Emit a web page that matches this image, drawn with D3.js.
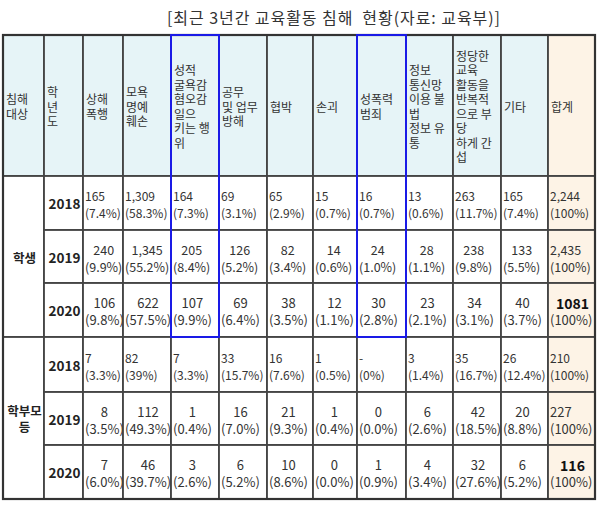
<!DOCTYPE html>
<html>
<head>
<meta charset="utf-8">
<script src="https://cdn.jsdelivr.net/npm/d3@7"></script>
<style>
  body { margin: 0; background: #fff; }
  svg { display: block; font-family: "Noto Sans CJK KR", "Noto Sans", sans-serif; }
</style>
</head>
<body>
<div id="chart"></div>
<script>
// title + column headers
var title = '[최근 3년간 교육활동 침해  현황(자료: 교육부)]';
var headers = [
  ['침해', '대상'], ['학', '년', '도'], ['상해', '폭행'], ['모욕', '명예', '훼손'],
  ['성적', '굴욕감', '혐오감', '일으', '키는 행', '위'], ['공무', '및 업무', '방해'],
  ['협박'], ['손괴'], ['성폭력', '범죄'], ['정보', '통신망', '이용 불', '법', '정보 유', '통'],
  ['정당한', '교육', '활동을', '반복적', '으로 부', '당', '하게 간', '섭'], ['기타'], ['합계']
];
var groups = [['학생'], ['학부모', '등']];
var years = [2018, 2019, 2020];

// counts per category (상해폭행 .. 기타), null = '-'
var student2018 = [165, 1309, 164, 69, 65, 15, 16, 13, 263, 165];
var student2019 = [240, 1345, 205, 126, 82, 14, 24, 28, 238, 133];
var student2020 = [106, 622, 107, 69, 38, 12, 30, 23, 34, 40];
var parent2018 = [7, 82, 7, 33, 16, 1, null, 3, 35, 26];
var parent2019 = [8, 112, 1, 16, 21, 1, 0, 6, 42, 20];
var parent2020 = [7, 46, 3, 6, 10, 0, 1, 4, 32, 6];
var totals = [2244, 2435, 1081, 210, 227, 116];

var studentPct2018 = ['7.4%', '58.3%', '7.3%', '3.1%', '2.9%', '0.7%', '0.7%', '0.6%', '11.7%', '7.4%'];
var studentPct2019 = ['9.9%', '55.2%', '8.4%', '5.2%', '3.4%', '0.6%', '1.0%', '1.1%', '9.8%', '5.5%'];
var studentPct2020 = ['9.8%', '57.5%', '9.9%', '6.4%', '3.5%', '1.1%', '2.8%', '2.1%', '3.1%', '3.7%'];
var parentPct2018 = ['3.3%', '39%', '3.3%', '15.7%', '7.6%', '0.5%', '0%', '1.4%', '16.7%', '12.4%'];
var parentPct2019 = ['3.5%', '49.3%', '0.4%', '7.0%', '9.3%', '0.4%', '0.0%', '2.6%', '18.5%', '8.8%'];
var parentPct2020 = ['6.0%', '39.7%', '2.6%', '5.2%', '8.6%', '0.0%', '0.9%', '3.4%', '27.6%', '5.2%'];

var counts = [student2018, student2019, student2020, parent2018, parent2019, parent2020];
var pcts = [studentPct2018, studentPct2019, studentPct2020, parentPct2018, parentPct2019, parentPct2020];

// layout
var width = 600, height = 506;
var colWidths = [41, 39, 40, 48, 48, 48, 46, 44, 49, 47, 48, 47, 47];
var rowHeights = [141, 54, 53, 54, 55, 53, 54];
var tableLeft = 3, tableTop = 35;
var colEdges = [tableLeft].concat(Array.from(d3.cumsum(colWidths), function(v) { return tableLeft + v; }));
var rowEdges = [tableTop].concat(Array.from(d3.cumsum(rowHeights), function(v) { return tableTop + v; }));
var x = d3.scaleOrdinal().domain(d3.range(colEdges.length)).range(colEdges);
var y = d3.scaleOrdinal().domain(d3.range(rowEdges.length)).range(rowEdges);

// per data row: alignment + font size
var rowAlign = ['left', 'center', 'center', 'left', 'center', 'center'];
var rowFont = [12, 12.5, 13, 12, 13, 13];
var boldTotal = [false, false, true, false, false, true];

var headBg = '#e6f4f7', totalBg = '#fdf3e6', lineCol = '#444', textCol = '#333';
var fmt = d3.format(',');

var svg = d3.select('#chart').append('svg')
  .attr('width', width)
  .attr('height', height);

svg.append('rect').attr('width', width).attr('height', height).attr('fill', '#fff');

svg.append('text')
  .attr('x', 167)
  .attr('y', 17)
  .attr('dominant-baseline', 'central')
  .attr('font-size', 16)
  .attr('fill', textCol)
  .attr('textLength', 333)
  .attr('lengthAdjust', 'spacing')
  .style('white-space', 'pre')
  .text(title);

var table = svg.append('g');

// header cells
headers.forEach(function(lines, i) {
  table.append('rect')
    .attr('x', x(i)).attr('y', y(0))
    .attr('width', x(i + 1) - x(i)).attr('height', y(1) - y(0))
    .attr('fill', i === headers.length - 1 ? totalBg : headBg)
    .attr('stroke', lineCol).attr('stroke-width', 1.8);
  var lh = 14.5;
  var cy = (y(0) + y(1)) / 2 - (lines.length - 1) * lh / 2;
  var t = table.append('text')
    .attr('font-size', 12)
    .attr('fill', textCol)
    .attr('dominant-baseline', 'central');
  lines.forEach(function(l, k) {
    t.append('tspan').attr('x', x(i) + 3).attr('y', cy + k * lh).text(l);
  });
});

// group cells
groups.forEach(function(lines, g) {
  var r0 = 1 + g * 3, r1 = r0 + 3;
  table.append('rect')
    .attr('x', x(0)).attr('y', y(r0))
    .attr('width', x(1) - x(0)).attr('height', y(r1) - y(r0))
    .attr('fill', '#fff')
    .attr('stroke', lineCol).attr('stroke-width', 1.8);
  var lh = 16;
  var cy = (y(r0) + y(r1)) / 2 - (lines.length - 1) * lh / 2;
  var t = table.append('text')
    .attr('font-size', 12.5)
    .attr('font-weight', 'bold')
    .attr('fill', '#222')
    .attr('text-anchor', 'middle')
    .attr('dominant-baseline', 'central');
  lines.forEach(function(l, k) {
    t.append('tspan').attr('x', (x(0) + x(1)) / 2 + 1).attr('y', cy + k * lh).text(l);
  });
});

// data rows
counts.forEach(function(row, r) {
  var ri = r + 1;
  var midY = (y(ri) + y(ri + 1)) / 2;
  var fs = rowFont[r];

  // year cell
  table.append('rect')
    .attr('x', x(1)).attr('y', y(ri))
    .attr('width', x(2) - x(1)).attr('height', y(ri + 1) - y(ri))
    .attr('fill', '#fff')
    .attr('stroke', lineCol).attr('stroke-width', 1.8);
  table.append('text')
    .attr('x', (x(1) + x(2)) / 2 + 1).attr('y', midY)
    .attr('text-anchor', 'middle').attr('dominant-baseline', 'central')
    .attr('font-size', 13.5).attr('font-weight', 'bold').attr('fill', '#222')
    .text(years[r % 3]);

  var cells = row.map(function(v, j) { return { v: v === null ? '-' : fmt(v), p: pcts[r][j], total: false }; });
  cells.push({ v: boldTotal[r] ? String(totals[r]) : fmt(totals[r]), p: '100%', total: true });

  cells.forEach(function(c, j) {
    var ci = j + 2;
    var x0 = x(ci), x1 = x(ci + 1);
    table.append('rect')
      .attr('x', x0).attr('y', y(ri))
      .attr('width', x1 - x0).attr('height', y(ri + 1) - y(ri))
      .attr('fill', c.total ? totalBg : '#fff')
      .attr('stroke', lineCol).attr('stroke-width', 1.8);

    var lh = 17;
    var pct = table.append('text')
      .attr('x', x0 + 2).attr('y', midY + lh / 2 + 1)
      .attr('dominant-baseline', 'central')
      .attr('font-size', fs).attr('fill', textCol)
      .text('(' + c.p + ')');
    var num = table.append('text')
      .attr('y', midY - lh / 2 + 1)
      .attr('dominant-baseline', 'central')
      .attr('font-size', c.total && boldTotal[r] ? 14 : fs)
      .attr('fill', c.total && boldTotal[r] ? '#111' : textCol)
      .text(c.v);
    if (c.total && boldTotal[r]) {
      num.attr('font-weight', 'bold').attr('text-anchor', 'middle').attr('x', (x0 + x1) / 2 + 1);
    } else if (rowAlign[r] === 'left' || c.total) {
      num.attr('x', x0 + 2);
    } else {
      var w = pct.node().getComputedTextLength();
      num.attr('text-anchor', 'middle').attr('x', x0 + 2 + w / 2);
    }
  });
});

// outer frame
table.append('rect')
  .attr('x', x(0)).attr('y', y(0))
  .attr('width', x(colEdges.length - 1) - x(0)).attr('height', y(rowEdges.length - 1) - y(0))
  .attr('fill', 'none').attr('stroke', '#333').attr('stroke-width', 2.2);

// blue highlight on two columns, header through student 2020
[4, 8].forEach(function(ci) {
  table.append('rect')
    .attr('x', x(ci)).attr('y', y(0))
    .attr('width', x(ci + 1) - x(ci)).attr('height', y(4) - y(0))
    .attr('fill', 'none').attr('stroke', '#1a1ae6').attr('stroke-width', 2);
});
</script>
</body>
</html>
